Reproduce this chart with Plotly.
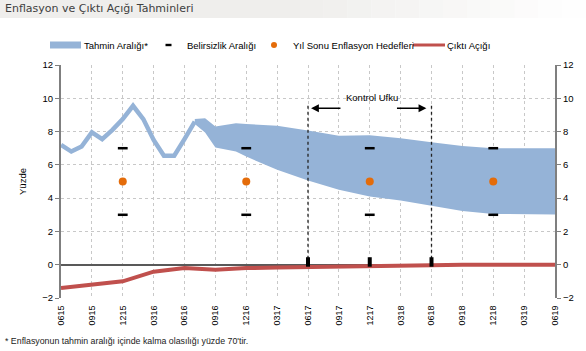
import plotly.graph_objects as go

# ---------------- data ----------------
months = []
for yr in range(15, 20):
    for m in range(1, 13):
        lab = f"{m:02d}{yr}"
        if (yr == 15 and m < 6) or (yr == 19 and m > 6):
            continue
        months.append(lab)

tick_labels = ["0615", "0915", "1215", "0316", "0616", "0916", "1216", "0317", "0617",
               "0917", "1217", "0318", "0618", "0918", "1218", "0319", "0619"]

# realised inflation (monthly)
hist_x = ["0615", "0715", "0815", "0915", "1015", "1115", "1215", "0116", "0216",
          "0316", "0416", "0516", "0616", "0716"]
hist_y = [7.2, 6.8, 7.1, 7.95, 7.55, 8.1, 8.75, 9.55, 8.75, 7.5, 6.55, 6.55, 7.55, 8.6]

# forecast band
band_x = ["0716", "0816", "0916", "1116", "1216", "0317", "0617", "0917", "1217",
          "0318", "0618", "0918", "1218", "0319", "0619"]
band_upper = [8.75, 8.8, 8.3, 8.5, 8.45, 8.35, 8.06, 7.75, 7.78, 7.6, 7.36, 7.14, 7.0, 6.98, 7.0]
band_lower = [8.45, 7.95, 7.05, 6.8, 6.5, 5.7, 5.06, 4.5, 4.1, 3.86, 3.54, 3.22, 3.05, 3.02, 3.02]

# output gap (quarterly)
gap_x = tick_labels
gap_y = [-1.4, -1.17, -1.0, -0.42, -0.2, -0.3, -0.2, -0.17, -0.13, -0.1, -0.08, -0.05,
         -0.03, 0.0, 0.0, 0.0, 0.0]

# year-end targets and uncertainty range
target_x = ["1215", "1216", "1217", "1218"]
target_y = [5, 5, 5, 5]
unc_upper = [7, 7, 7, 7]
unc_lower = [3, 3, 3, 3]

# control horizon
horizon_x = ["0617", "0618"]
horizon_top = 9.6

# small black markers near zero
mark_x = ["0617", "1217", "0618"]
mark_lo = -0.12
mark_hi = 0.45

# ---------------- figure ----------------
W, H = 586, 351
L, R, T, B = 61, 31, 65, 53
PW, PH = W - L - R, H - T - B

def px(xp):
    return (xp - L) / PW

def py(yp):
    return (H - B - yp) / PH

BLUE = "#95b3d7"
RED = "#c0504d"
ORANGE = "#e46c0a"
FONT = "Liberation Sans, Arial, sans-serif"

fig = go.Figure()

fig.add_trace(go.Scatter(x=band_x, y=band_lower, mode="lines", line=dict(width=0, color=BLUE),
                         showlegend=False, hoverinfo="skip"))
fig.add_trace(go.Scatter(x=band_x, y=band_upper, mode="lines", line=dict(width=0, color=BLUE),
                         fill="tonexty", fillcolor=BLUE, showlegend=False, name="Tahmin Aralığı*"))
fig.add_trace(go.Scatter(x=hist_x, y=hist_y, mode="lines", line=dict(width=4.5, color=BLUE),
                         showlegend=False))

# control horizon dotted lines
hx, hy = [], []
for h in horizon_x:
    hx += [h, h, None]
    hy += [0, horizon_top, None]
fig.add_trace(go.Scatter(x=hx, y=hy, mode="lines", line=dict(width=1.3, color="#222", dash="dot"),
                         showlegend=False, hoverinfo="skip"))

fig.add_trace(go.Scatter(x=gap_x, y=gap_y, mode="lines", line=dict(width=4, color=RED),
                         showlegend=False, name="Çıktı Açığı"))

# small black bars
mx, my = [], []
for m in mark_x:
    mx += [m, m, None]
    my += [mark_lo, mark_hi, None]
fig.add_trace(go.Scatter(x=mx, y=my, mode="lines", line=dict(width=4, color="black"),
                         showlegend=False, hoverinfo="skip"))

# uncertainty dashes
fig.add_trace(go.Scatter(x=target_x + target_x, y=unc_upper + unc_lower, mode="markers",
                         marker=dict(symbol="line-ew", size=7, line=dict(width=2.5, color="black")),
                         showlegend=False, name="Belirsizlik Aralığı"))

# targets (on right axis, same scale)
fig.add_trace(go.Scatter(x=target_x, y=target_y, mode="markers", yaxis="y2",
                         marker=dict(size=8, color=ORANGE),
                         showlegend=False, name="Yıl Sonu Enflasyon Hedefleri"))

axis_col = "#7f7f7f"
grid_col = "#c8c8c8"

fig.update_layout(
    width=W, height=H,
    margin=dict(l=L, r=R, t=T, b=B),
    paper_bgcolor="white", plot_bgcolor="white",
    font=dict(family=FONT, size=9, color="black"),
    xaxis=dict(type="category", categoryorder="array", categoryarray=months,
               range=[0, len(months) - 1], tickmode="array", tickvals=tick_labels,
               ticktext=tick_labels, tickangle=-90, tickfont=dict(size=9),
               showgrid=True, gridcolor=grid_col, griddash="dot", gridwidth=1,
               showline=False, zeroline=False, ticks="outside", ticklen=3,
               tickcolor="rgba(0,0,0,0)"),
    yaxis=dict(range=[-2, 12], dtick=2, showgrid=True, gridcolor=grid_col, griddash="dot",
               gridwidth=1, showline=True, linecolor=axis_col, linewidth=2, ticks="outside",
               ticklen=4, tickcolor=axis_col, zeroline=True, zerolinecolor="#595959",
               zerolinewidth=1.5, tickfont=dict(size=9.5),
               title=dict(text="Yüzde", font=dict(size=9.5), standoff=14)),
    yaxis2=dict(range=[-2, 12], dtick=2, overlaying="y", side="right", showgrid=False,
                showline=True, linecolor=axis_col, linewidth=2, ticks="outside", ticklen=4,
                tickcolor=axis_col, zeroline=False, tickfont=dict(size=9.5)),
)

# title bar
fig.add_shape(type="rect", xref="paper", yref="paper", x0=px(0), x1=px(300), y0=py(18), y1=py(0),
              fillcolor="#efeeec", line=dict(width=0), layer="below")
steps = 12
for i in range(steps):
    x0 = 300 + i * (286 / steps)
    x1 = 300 + (i + 1) * (286 / steps)
    fig.add_shape(type="rect", xref="paper", yref="paper", x0=px(x0), x1=px(x1), y0=py(18), y1=py(0),
                  fillcolor="#efeeec", opacity=1 - (i + 0.5) / steps, line=dict(width=0), layer="below")
fig.add_annotation(text="Enflasyon ve Çıktı Açığı Tahminleri", xref="paper", yref="paper",
                   x=px(3), y=py(8.5), xanchor="left", yanchor="middle", showarrow=False,
                   font=dict(size=11, color="#404040", family="DejaVu Sans, sans-serif"))

# custom legend
LY = 45
fig.add_shape(type="rect", xref="paper", yref="paper", x0=px(50), x1=px(81), y0=py(48.5), y1=py(41.5),
              fillcolor=BLUE, line=dict(width=0))
fig.add_annotation(text="Tahmin Aralığı*", xref="paper", yref="paper", x=px(82), y=py(LY),
                   xanchor="left", yanchor="middle", showarrow=False, font=dict(size=9.5))
fig.add_shape(type="rect", xref="paper", yref="paper", x0=px(165.5), x1=px(171.5), y0=py(46.2), y1=py(43.8),
              fillcolor="black", line=dict(width=0))
fig.add_annotation(text="Belirsizlik Aralığı", xref="paper", yref="paper", x=px(185), y=py(LY),
                   xanchor="left", yanchor="middle", showarrow=False, font=dict(size=9.5))
fig.add_shape(type="circle", xref="paper", yref="paper", x0=px(271), x1=px(277), y0=py(48), y1=py(42),
              fillcolor=ORANGE, line=dict(width=0))
fig.add_annotation(text="Yıl Sonu Enflasyon Hedefleri", xref="paper", yref="paper", x=px(291), y=py(LY),
                   xanchor="left", yanchor="middle", showarrow=False, font=dict(size=9.5))
fig.add_shape(type="line", xref="paper", yref="paper", x0=px(413), x1=px(445), y0=py(LY), y1=py(LY),
              line=dict(color=RED, width=3))
fig.add_annotation(text="Çıktı Açığı", xref="paper", yref="paper", x=px(445), y=py(LY),
                   xanchor="left", yanchor="middle", showarrow=False, font=dict(size=9.5))

# control horizon label + arrows
i0 = months.index(horizon_x[0])
i1 = months.index(horizon_x[1])
fig.add_annotation(text="Kontrol Ufku", x=(i0 + i1) / 2 + 0.2, y=10.05, xref="x", yref="y",
                   showarrow=False, font=dict(size=9.5), yanchor="middle")
fig.add_annotation(text="", x=i0 + 0.3, y=9.4, ax=i0 + 3.3, ay=9.4, xref="x", yref="y",
                   axref="x", ayref="y", showarrow=True, arrowhead=2, arrowsize=1.2,
                   arrowwidth=1.3, arrowcolor="black")
fig.add_annotation(text="", x=i1 - 0.5, y=9.4, ax=i1 - 3.5, ay=9.4, xref="x", yref="y",
                   axref="x", ayref="y", showarrow=True, arrowhead=2, arrowsize=1.2,
                   arrowwidth=1.3, arrowcolor="black")

# footnote
fig.add_annotation(text="* Enflasyonun tahmin aralığı içinde kalma olasılığı yüzde 70'tir.",
                   xref="paper", yref="paper", x=px(3), y=py(341), xanchor="left", yanchor="middle",
                   showarrow=False, font=dict(size=8.8, color="#222"))

fig.write_html("out.html")
